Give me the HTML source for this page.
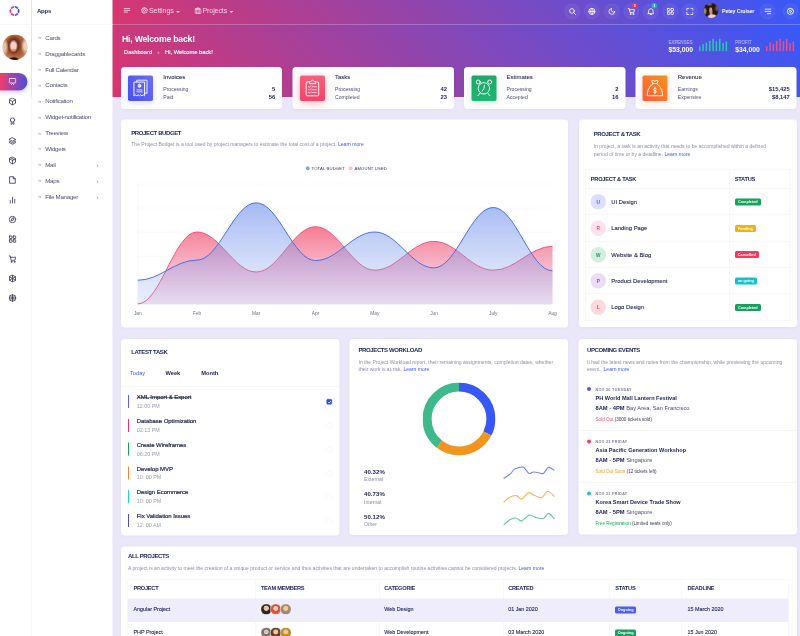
<!DOCTYPE html>
<html lang="en">
<head>
<meta charset="utf-8">
<title>Dashboard</title>
<style>
*{box-sizing:border-box;margin:0;padding:0}
html,body{width:800px;height:636px;overflow:hidden;background:#e9e7f8}
body{font-family:"Liberation Sans",sans-serif;color:#1d2250}
#app{position:relative;width:1600px;height:1272px;transform:scale(.5);transform-origin:0 0;overflow:hidden;background:#e9e7f8;font-size:13px}
a{color:#3d5af1;text-decoration:none}
svg{display:block}
/* ---------- icon sidebar ---------- */
.iconbar{z-index:2;position:absolute;left:0;top:0;width:63px;height:1272px;background:#fff;border-right:1px solid #e6e7f1}
.logo{position:absolute;left:0;top:0;width:62px;height:49px;border-bottom:1px solid #eceef5}
.logo svg{position:absolute;left:16px;top:8.8px}
.me{position:absolute;left:4.5px;top:69px;width:50px;height:50.5px;border-radius:50%;overflow:hidden;
 background:
 radial-gradient(ellipse 11px 5px at 45% 98%,#1e1516 0 70%,transparent 100%),
 radial-gradient(ellipse 5px 3px at 44% 60%,#e78d93 0 50%,transparent 100%),
 radial-gradient(ellipse 9px 13px at 44% 45%,#f4d3c4 0 55%,rgba(244,211,196,0) 100%),
 radial-gradient(ellipse 9px 18px at 92% 45%,#ecd0b8 0 40%,transparent 100%),
 radial-gradient(ellipse 8px 18px at 8% 50%,#e9c2a4 0 40%,transparent 100%),
 radial-gradient(ellipse 16px 20px at 46% 42%,#6e3220 0 60%,transparent 100%),
 radial-gradient(ellipse 30px 30px at 50% 45%,#a95a34 0 60%,#c98c60 100%)}
.me i{display:none}
.pill{position:absolute;left:0;top:146px;width:55px;height:35px;border-radius:0 18px 18px 0;
 background:linear-gradient(90deg,#ef3d6c 0%,#9a45ad 50%,#4a50d8 100%);box-shadow:0 4px 8px rgba(90,80,200,.28)}
.ico{position:absolute;left:17px;width:16px;height:16px;fill:none;stroke:#34364d;stroke-width:1.6;stroke-linecap:round;stroke-linejoin:round}
.pill .ico{stroke:#fff;top:9px;left:17px}
/* ---------- sub menu ---------- */
.submenu{z-index:2;position:absolute;left:63px;top:0;width:162px;height:1272px;background:#fff}
.submenu h4{position:absolute;left:11px;top:15px;font-size:12px;font-weight:700;color:#1d2250;letter-spacing:-.45px}
.submenu .hr{position:absolute;left:0;top:48px;width:162px;height:1px;background:#eceef5}
.submenu ul{list-style:none;position:absolute;left:0;top:60px;width:162px}
.submenu li{position:relative;height:31.75px;line-height:31.75px;padding-left:27.5px;font-size:12.3px;letter-spacing:-.52px;color:#4b4f6e}
.submenu li:before{content:"»";position:absolute;left:13px;top:-1px;font-size:12px;letter-spacing:0;color:#a3a6ba}
.submenu li b{position:absolute;left:130px;top:0;font-weight:400;color:#7b7f98;font-size:12px}
/* ---------- header ---------- */
.hero{position:absolute;left:0;top:49px;width:1600px;height:145px;background:linear-gradient(45deg,#f33057 0%,#3858f9 100%)}
.topbar{position:absolute;left:0;top:0;width:1600px;height:49px;background:linear-gradient(45deg,#f33057 0%,#3858f9 100%);border-bottom:1px solid rgba(255,255,255,.12)}
.tb{position:absolute;top:0;height:48px;color:rgba(255,255,255,.76);font-size:14.3px;line-height:48px;white-space:nowrap}
.tb svg{position:absolute;fill:none;stroke:rgba(255,255,255,.85);stroke-width:1.6;stroke-linecap:round;stroke-linejoin:round}
.caret{position:absolute;top:22px;width:0;height:0;border:4px solid transparent;border-top:4.5px solid rgba(255,255,255,.8)}
.cbtn{position:absolute;top:7px;width:31px;height:31px;border-radius:50%;background:rgba(255,255,255,.05);border:1px solid rgba(255,255,255,.07)}
.cbtn svg{position:absolute;left:6.7px;top:6.7px;width:15.6px;height:15.6px;fill:none;stroke:rgba(255,255,255,.88);stroke-width:1.7;stroke-linecap:round;stroke-linejoin:round}
.bdg{position:absolute;top:6px;width:11px;height:11px;border-radius:50%;font-size:6px;line-height:11px;text-align:center;color:#fff;font-weight:700}
.user{position:absolute;left:1406.5px;top:6px;width:30px;height:30px;border-radius:50%;overflow:hidden;
 background:
 radial-gradient(ellipse 4px 6px at 48% 45%,#d39a78 0 55%,transparent 100%),
 radial-gradient(ellipse 11px 6px at 58% 92%,#ead2c6 0 60%,transparent 100%),
 radial-gradient(ellipse 4px 9px at 50% 62%,#c98f6c 0 50%,transparent 100%),
 radial-gradient(ellipse 5px 9px at 8% 55%,#9a8a5e 0 40%,transparent 100%),
 radial-gradient(ellipse 6px 8px at 92% 35%,#7a5228 0 40%,transparent 100%),
 radial-gradient(ellipse 7px 4px at 40% 8%,#7a6a3a 0 40%,transparent 100%),
 #241817}
.uname{position:absolute;left:1444px;top:0;line-height:45px;font-size:10.6px;letter-spacing:-.3px;font-weight:700;color:#fff;white-space:nowrap}
.hello{position:absolute;left:244px;top:68px;font-size:17.4px;font-weight:700;color:#fff;white-space:nowrap;letter-spacing:-.45px}
.crumb{position:absolute;left:248px;top:97px;font-size:11.5px;-webkit-text-stroke:.25px #fff;color:#fff;white-space:nowrap;line-height:14px}
.crumb span{position:absolute;top:0}
.kpi{position:absolute;top:76.5px;color:#fff;white-space:nowrap}
.kpi small{display:block;font-size:9.3px;letter-spacing:-.3px;line-height:14px;color:rgba(255,255,255,.62)}
.kpi strong{display:block;font-size:13.6px;line-height:16px;font-weight:700}
.bars{position:absolute;top:75px}
/* ---------- cards ---------- */
.card{position:absolute;background:#fff;border-radius:7px;box-shadow:0 1px 6px rgba(120,110,200,.06)}
.stat{top:134px;width:322.5px;height:83.5px}
.stat .ib{position:absolute;left:14.5px;top:17px;width:50px;height:50.5px;border-radius:3.5px}
.stat .ib svg{position:absolute;left:0;top:0;width:50px;height:50px;fill:none;stroke:#fff;stroke-width:1.9;stroke-linecap:round;stroke-linejoin:round}
.stat h5{position:absolute;left:85px;top:12px;font-size:12px;font-weight:400;color:#1d2250;line-height:16px;-webkit-text-stroke:.15px #1d2250}
.stat p{position:absolute;left:85px;width:224px;font-size:10.2px;line-height:14px;color:#4a4f70}
.stat p b{position:absolute;right:0;top:-1.5px;font-size:11.6px;color:#1d2250}
.ttl{position:absolute;font-size:12px;letter-spacing:-.78px;font-weight:700;color:#212a5e;margin-top:-2.5px;white-space:nowrap;text-transform:uppercase;line-height:16px}
.desc{position:absolute;margin-top:-1px;font-size:10.1px;line-height:15.5px;color:#8b8fa6}

.lg{position:absolute;font-size:8.4px;letter-spacing:.3px;color:#33375a;white-space:nowrap;line-height:10px}
.lg i{position:absolute;left:-11px;top:1.4px;width:7px;height:7px;border-radius:50%;border:1.7px solid}
.tbl{position:absolute;border:1px solid #f0f0f7;border-bottom:0}
.tbl u{position:absolute;top:0;width:1px;height:100%;background:#f0f0f7}
.th{position:relative;height:38.4px;border-bottom:1px solid #f0f0f7}
.th span{position:absolute;top:9.5px;font-size:11.3px;letter-spacing:-.5px;font-weight:700;text-transform:uppercase;color:#1d2250;line-height:16px;white-space:nowrap}
.tr{position:relative;height:52.6px;border-bottom:1px solid #f0f0f7}
.tr em{position:absolute;left:10px;top:10.5px;width:31px;height:31px;border-radius:50%;font-style:normal;font-weight:700;font-size:9.5px;line-height:31px;text-align:center}
.tr span{position:absolute;left:51.5px;top:18px;font-size:11.7px;line-height:16px;color:#1d2250;white-space:nowrap;-webkit-text-stroke:.2px #1d2250}
.bd{position:absolute;left:298.5px;top:19.3px;height:14px;border-radius:3px;color:#fff;font-size:7.6px;font-weight:700;line-height:14px;text-align:center;white-space:nowrap}

.sep{position:absolute;left:0;width:100%;height:1px;background:#eeeef6}
.tabs span{position:absolute;top:59.5px;font-size:11.4px;font-weight:700;color:#1d2250;line-height:16px}
.tabs span.on{color:#3d5af1;font-weight:400}
.task{position:absolute;left:14.5px;width:410px;height:27px}
.task i{position:absolute;left:0;top:0;width:2px;height:26px}
.task h6{position:absolute;left:17.5px;top:-2.6px;font-size:12px;letter-spacing:-.1px;font-weight:400;-webkit-text-stroke:.4px #1d2250;color:#1d2250;line-height:14px;white-space:nowrap}
.task h6.done{text-decoration:line-through}
.task small{position:absolute;left:17.5px;top:15.5px;font-size:10.75px;color:#9a9db3;line-height:13px;white-space:nowrap}
.ck{display:block;position:absolute;left:397px;top:8px;width:11px;height:11px;border-radius:2.5px;border:1px solid #f0f0f6;text-decoration:none}
.ck.on{background:#2d4ee8;border-color:#2d4ee8}
.ck svg{position:absolute;left:-.5px;top:-.5px}
.wl{position:absolute;left:29px;line-height:1}
.wl b{display:block;font-size:12.1px;font-weight:700;color:#1d2250;line-height:15px;letter-spacing:.1px}
.wl span{display:block;font-size:10.4px;color:#8b8fa6;line-height:15px}
.ev{position:absolute;left:0;width:100%}
.ev i{position:absolute;left:16.6px;top:3.5px;width:8px;height:8px;border-radius:50%}
.ev small{position:absolute;left:34px;top:3px;font-size:7.4px;font-weight:700;letter-spacing:.7px;color:#7a7e98;line-height:10px;white-space:nowrap}
.ev h6{position:absolute;left:34px;top:16px;font-size:11.1px;font-weight:700;color:#1d2250;line-height:16px;white-space:nowrap}
.ev p{position:absolute;left:34px;top:37px;font-size:11.5px;color:#4a4f70;line-height:16px;white-space:nowrap}
.ev p b{color:#1d2250}
.ev em{position:absolute;left:34px;top:61px;font-style:normal;font-size:9.2px;color:#3c4060;line-height:12px;white-space:nowrap}

.pr{position:relative;height:46.6px;border-bottom:1px solid #f0f0f7}
.pr.odd{background:#efedfb}
.pr span{position:absolute;top:12px;font-size:10.8px;line-height:16px;color:#1d2250;white-space:nowrap;-webkit-text-stroke:.2px #1d2250}
.avs{position:absolute;left:266px;top:9.5px;height:23px}
.avs i{position:absolute;top:0;width:23px;height:23px;border-radius:50%;border:1px solid #fff}
.avs i:nth-child(1){left:0}.avs i:nth-child(2){left:19px}.avs i:nth-child(3){left:38.5px}
.t2 span{top:7.6px}
</style>
</head>
<body>
<div id="app">

<!-- ================= ICON SIDEBAR ================= -->
<div class="iconbar">
  <div class="logo">
    <svg width="26" height="26" viewBox="-13 -13 26 26" fill="none" stroke-width="3.5" stroke-linecap="round">
      <path d="M2.2 -8.1 L5.9 -6.0" stroke="#4a50e4"/>
      <path d="M8.1 -2.2 L8.1 2.2" stroke="#4547e2"/>
      <path d="M5.9 6.0 L2.2 8.1" stroke="#7b49d2"/>
      <path d="M-2.2 8.1 L-5.9 6.0" stroke="#e9346f"/>
      <path d="M-8.1 2.2 L-8.1 -2.2" stroke="#ec3a6a"/>
      <path d="M-5.9 -6.0 L-2.2 -8.1" stroke="#b34aa9"/>
    </svg>
  </div>
  <div class="me"><i></i></div>
  <div class="pill"><svg class="ico" viewBox="0 0 16 16"><rect x="1.5" y="2" width="13" height="9" rx="1.2"/><path d="M5.5 14.5 L8 11.5 L10.5 14.5"/></svg></div>
  <svg class="ico" style="top:195px" viewBox="0 0 16 16"><path d="M8 1.2 L14 4.5 V11.5 L8 14.8 L2 11.5 V4.5 Z M2 4.5 L8 8 L14 4.5 M8 8 V14.8"/></svg>
  <svg class="ico" style="top:234px" viewBox="0 0 16 16"><circle cx="8" cy="6" r="4.3"/><path d="M5.5 9.8 L5 14.8 L8 13.2 L11 14.8 L10.5 9.8"/></svg>
  <svg class="ico" style="top:274px" viewBox="0 0 16 16"><path d="M8 1.5 L14.5 5 L8 8.5 L1.5 5 Z M1.5 8 L8 11.5 L14.5 8 M1.5 11 L8 14.5 L14.5 11"/></svg>
  <svg class="ico" style="top:313px" viewBox="0 0 16 16"><path d="M8 1.2 L14 4.5 V11.5 L8 14.8 L2 11.5 V4.5 Z M2 4.5 L8 8 L14 4.5 M8 8 V14.8 M5 2.9 L11 6.2"/></svg>
  <svg class="ico" style="top:352px" viewBox="0 0 16 16"><path d="M3 1.5 H9.5 L13.5 5.5 V14.5 H3 Z M9.5 1.5 V5.5 H13.5"/></svg>
  <svg class="ico" style="top:392px" viewBox="0 0 16 16"><path d="M3.5 14 V9 M8 14 V2.5 M12.5 14 V6.5"/></svg>
  <svg class="ico" style="top:431px" viewBox="0 0 16 16"><circle cx="8" cy="8" r="6.5"/><path d="M10.8 5.2 L9.4 9.4 L5.2 10.8 L6.6 6.6 Z"/></svg>
  <svg class="ico" style="top:470px" viewBox="0 0 16 16"><rect x="2" y="2" width="5" height="5" rx=".4"/><rect x="9.5" y="2" width="5" height="5" rx=".4"/><rect x="2" y="9.5" width="5" height="5" rx=".4"/><rect x="9.5" y="9.5" width="5" height="5" rx=".4"/></svg>
  <svg class="ico" style="top:510px" viewBox="0 0 16 16"><path d="M1 1.8 H3.4 L5.2 10.5 H12.8 L14.4 4.5 H4"/><circle cx="6" cy="13.6" r="1.1"/><circle cx="12" cy="13.6" r="1.1"/></svg>
  <svg class="ico" style="top:549px" viewBox="0 0 16 16"><path d="M8 1.2 L14 4.5 V11.5 L8 14.8 L2 11.5 V4.5 Z M2 4.5 L14 11.5 M14 4.5 L2 11.5 M8 1.2 V14.8"/></svg>
  <svg class="ico" style="top:588px" viewBox="0 0 16 16"><circle cx="8" cy="8" r="6.5"/><path d="M8 1.5 V14.5 M1.5 8 H14.5 M3.4 3.4 L12.6 12.6 M12.6 3.4 L3.4 12.6"/></svg>
</div>

<!-- ================= SUB MENU ================= -->
<div class="submenu">
  <h4>Apps</h4>
  <div class="hr"></div>
  <ul>
    <li>Cards</li>
    <li>Draggablecards</li>
    <li>Full Calendar</li>
    <li>Contacts</li>
    <li>Notification</li>
    <li>Widget-notification</li>
    <li>Treeview</li>
    <li>Widgets</li>
    <li>Mail<b>›</b></li>
    <li>Maps<b>›</b></li>
    <li>File Manager<b>›</b></li>
  </ul>
</div>

<!-- ================= HEADER ================= -->
<div class="topbar"></div>
<div class="hero"></div>
<!-- top bar left -->
<div class="tb" style="left:247px;width:240px">
  <svg style="left:0;top:14.5px" width="14" height="12" viewBox="0 0 14 12" stroke-width="1.5"><path d="M1 2.2 H12.6 M1 5.7 H12.6 M1 9.2 H8.2" stroke-width="1.5"/></svg>
  <svg style="left:35px;top:14px" width="14" height="14" viewBox="0 0 14 14"><circle cx="7" cy="7" r="2.2"/><path d="M7 1 L8.2 2.6 L10.2 1.9 L10.6 3.9 L12.6 4.4 L11.8 6.3 L13 7.9 L11.3 9 L11.5 11 L9.5 11 L8.5 12.8 L7 11.6 L5.3 12.8 L4.4 11 L2.4 11 L2.7 9 L1 7.9 L2.2 6.3 L1.4 4.4 L3.4 3.9 L3.8 1.9 L5.8 2.6 Z"/></svg>
  <span style="position:absolute;left:51px;top:-4px;letter-spacing:-.3px">Settings</span><i class="caret" style="left:105px"></i>
  <svg style="left:142px;top:14px" width="14" height="14" viewBox="0 0 14 14"><rect x="1" y="4" width="12" height="8.5" rx="1.2"/><path d="M4.8 4 V2 H9.2 V4 M4.8 4 V12.5 M9.2 4 V12.5"/></svg>
  <span style="position:absolute;left:158px;top:-4px;letter-spacing:-.3px">Projects</span><i class="caret" style="left:212px"></i>
</div>
<!-- top bar right -->
<div class="cbtn" style="left:1129px"><svg viewBox="0 0 14 14"><circle cx="6.2" cy="6.2" r="4.2"/><path d="M9.4 9.4 L12.6 12.6"/></svg></div>
<div class="cbtn" style="left:1168px"><svg viewBox="0 0 14 14"><circle cx="7" cy="7" r="5.6"/><path d="M1.4 7 H12.6 M7 1.4 C4 4 4 10 7 12.6 C10 10 10 4 7 1.4"/></svg></div>
<div class="cbtn" style="left:1208px"><svg viewBox="0 0 14 14"><path d="M12.25 7.46 A5.25 5.25 0 1 1 6.54 1.75 A4.08 4.08 0 0 0 12.25 7.46 Z"/></svg></div>
<div class="cbtn" style="left:1247px"><svg viewBox="0 0 14 14"><path d="M.8 1.6 H3 L4.6 9.2 H11.2 L12.6 4 H3.6"/><circle cx="5.4" cy="11.8" r=".9"/><circle cx="10.4" cy="11.8" r=".9"/></svg></div>
<div class="cbtn" style="left:1286px"><svg viewBox="0 0 14 14"><path d="M3 10 V6.2 A4 4 0 0 1 11 6.2 V10 L12 11 H2 Z M5.8 12.6 H8.2"/></svg></div>
<div class="cbtn" style="left:1325px"><svg viewBox="0 0 14 14"><rect x="1.6" y="1.6" width="4.4" height="4.4" rx=".8"/><rect x="8" y="1.6" width="4.4" height="4.4" rx=".8"/><rect x="1.6" y="8" width="4.4" height="4.4" rx=".8"/><rect x="8" y="8" width="4.4" height="4.4" rx=".8"/></svg></div>
<div class="cbtn" style="left:1364px"><svg viewBox="0 0 14 14"><path d="M1.5 5 V1.5 H5 M9 1.5 H12.5 V5 M12.5 9 V12.5 H9 M5 12.5 H1.5 V9"/></svg></div>
<div class="bdg" style="left:1264px;background:#f5334f">5</div>
<div class="bdg" style="left:1303px;background:#17b8a6">3</div>
<div class="user"></div>
<div class="uname">Petey Cruiser</div>
<div class="cbtn" style="left:1520px"><svg viewBox="0 0 14 14"><path d="M2 3 H12.5 M2 7 H12.5 M6 11 H12.5"/></svg></div>
<div class="cbtn" style="left:1565.5px"><svg viewBox="0 0 14 14"><circle cx="7" cy="7" r="2"/><path d="M7 1 L8.2 2.6 L10.2 1.9 L10.6 3.9 L12.6 4.4 L11.8 6.3 L13 7.9 L11.3 9 L11.5 11 L9.5 11 L8.5 12.8 L7 11.6 L5.3 12.8 L4.4 11 L2.4 11 L2.7 9 L1 7.9 L2.2 6.3 L1.4 4.4 L3.4 3.9 L3.8 1.9 L5.8 2.6 Z"/></svg></div>

<div class="hello">Hi, Welcome back!</div>
<div class="crumb"><span style="left:0">Dashboard</span><span style="left:67px;opacity:.55">›</span><span style="left:82px">Hi, Welcome back!</span></div>

<div class="kpi" style="left:1337px"><small>EXPENSES</small><strong>$53,000</strong></div>
<svg class="bars" style="left:1397px" width="60" height="28" viewBox="0 0 60 28" fill="#1fd1a5">
  <rect x="1" y="17.5" width="3" height="10" rx="1"/><rect x="7.7" y="13" width="3" height="14.6" rx="1"/><rect x="14.3" y="10" width="3" height="17.5" rx="1"/><rect x="21" y="6.5" width="3" height="21" rx="1"/><rect x="27.6" y="2.4" width="3" height="25.2" rx="1"/><rect x="34.3" y="7.6" width="3" height="20" rx="1"/><rect x="40.9" y="2.4" width="3" height="25.2" rx="1"/><rect x="47.6" y="11.2" width="3" height="16.4" rx="1"/><rect x="54.2" y="7.6" width="3" height="20" rx="1"/>
</svg>
<div class="kpi" style="left:1470.5px"><small>PROFIT</small><strong>$34,000</strong></div>
<svg class="bars" style="left:1531px" width="60" height="28" viewBox="0 0 60 28" fill="#ee4f86">
  <rect x="1" y="17.5" width="3" height="10" rx="1"/><rect x="7.7" y="9.4" width="3" height="18.2" rx="1"/><rect x="14.3" y="13" width="3" height="14.6" rx="1"/><rect x="21" y="6.5" width="3" height="21" rx="1"/><rect x="27.6" y="2.4" width="3" height="25.2" rx="1"/><rect x="34.3" y="7.6" width="3" height="20" rx="1"/><rect x="40.9" y="2.4" width="3" height="25.2" rx="1"/><rect x="47.6" y="11.2" width="3" height="16.4" rx="1"/><rect x="54.2" y="7.6" width="3" height="20" rx="1"/>
</svg>

<!-- stat cards -->
<div class="card stat" style="left:241.5px">
  <div class="ib" style="background:linear-gradient(60deg,#4850f2,#6e6cf6);box-shadow:0 4px 12px rgba(90,95,240,.22)"><svg viewBox="0 0 50 50"><path d="M17.5 13 V9.4 H38 V36 L36 34.4 L34 36 H33.4" stroke-opacity=".9"/><path d="M12.6 13.2 H33.2 V40.6 L30.6 38.6 L28 40.6 L25.4 38.6 L22.9 40.6 L20.3 38.6 L17.7 40.6 L15.2 38.6 L12.6 40.6 Z"/><ellipse cx="23" cy="20.6" rx="2.6" ry="3.6"/><path d="M23 18.6 V22.6 M17.6 28.8 H28.4 M17.6 32.6 H28.4" stroke-width="1.6"/></svg></div>
  <h5>Invoices</h5>
  <p style="top:37.5px">Processing<b>5</b></p>
  <p style="top:53.8px">Paid<b>56</b></p>
</div>
<div class="card stat" style="left:585px">
  <div class="ib" style="background:linear-gradient(180deg,#f95f7a,#f4436a);box-shadow:0 4px 16px rgba(245,60,95,.38)"><svg viewBox="0 0 50 50"><path d="M19 12.8 H14.6 Q12.4 12.8 12.4 15 V38.4 Q12.4 40.6 14.6 40.6 H35.2 Q37.4 40.6 37.4 38.4 V15 Q37.4 12.8 35.2 12.8 H31"/><path d="M19 15.6 V12.4 H22 Q22.6 9.4 25 9.4 Q27.4 9.4 28 12.4 H31 V15.6 Z"/><path d="M17.4 22.4 L18.8 23.8 L21.2 21 M24 22.5 H32.6 M17.4 28.2 L18.8 29.6 L21.2 26.8 M24 28.3 H32.6 M17.4 34 L18.8 35.4 L21.2 32.6 M24 34.2 H32.6" stroke-width="1.7"/></svg></div>
  <h5>Tasks</h5>
  <p style="top:37.5px">Processing<b>42</b></p>
  <p style="top:53.8px">Completed<b>23</b></p>
</div>
<div class="card stat" style="left:928px">
  <div class="ib" style="background:linear-gradient(180deg,#1ca968,#21b472);box-shadow:0 4px 12px rgba(30,170,100,.22)"><svg viewBox="0 0 50 50"><circle cx="24.8" cy="25.7" r="11.4"/><path d="M25.9 19.3 L24.8 26.2 L21 31.2" stroke-width="1.7"/><path d="M17.2 35.2 L13 40.2 M32.6 35.2 L36.6 40.2"/><circle cx="13.4" cy="13" r="4"/><circle cx="36.4" cy="13" r="4"/></svg></div>
  <h5>Estimates</h5>
  <p style="top:37.5px">Processing<b>2</b></p>
  <p style="top:53.8px">Accepted<b>16</b></p>
</div>
<div class="card stat" style="left:1270.5px">
  <div class="ib" style="background:linear-gradient(45deg,#fd5a3e,#f6931d);box-shadow:0 4px 12px rgba(245,110,50,.25)"><svg viewBox="0 0 50 50"><path d="M20.6 16.6 C13 22 9.4 31 9.4 40.4 H40.2 C40.2 31 36.6 22 29 16.6 Z"/><path d="M20.8 16.4 C19.6 14 18.2 12 18.6 10.6 C19.2 9 21.6 9.6 24.8 11.6 C28 9.6 30.4 9 31 10.6 C31.4 12 30 14 28.8 16.4"/><path d="M27.6 27 C26 25 22 25.6 22 28 C22 31 27.8 29.4 27.8 32.6 C27.8 35.2 23.4 35.6 21.8 33.4 M24.8 23.8 V36.8" stroke-width="1.7"/></svg></div>
  <h5>Revenue</h5>
  <p style="top:37.5px">Earnings<b>$15,425</b></p>
  <p style="top:53.8px">Expensive<b>$8,147</b></p>
</div>

<!-- ============ PROJECT BUDGET ============ -->
<div class="card" style="left:241.5px;top:239px;width:894.5px;height:416px">
  <div class="ttl" style="left:21px;top:21px">Project Budget</div>
  <div class="desc" style="left:21px;top:43px;white-space:nowrap">The Project Budget is a tool used by project managers to estimate the total cost of a project. <a>Learn more</a></div>
  <div class="lg" style="left:381.5px;top:92.5px"><i style="background:#93a6f2;border-color:#4c68ea"></i>TOTAL BUDGET</div>
  <div class="lg" style="left:467.5px;top:92.5px"><i style="background:#fbd3dc;border-color:#f08ba8"></i>AMOUNT USED</div>
  <svg style="position:absolute;left:0;top:0" width="894" height="416" viewBox="241.5 239 894 416">
    <defs>
      <linearGradient id="gb" x1="0" y1="0" x2="0" y2="1" gradientUnits="objectBoundingBox"><stop offset="0" stop-color="#5b7fe8" stop-opacity=".55"/><stop offset="1" stop-color="#9fb6f5" stop-opacity=".22"/></linearGradient>
      <linearGradient id="gr" x1="0" y1="0" x2="0" y2="1" gradientUnits="objectBoundingBox"><stop offset="0" stop-color="#f5506f" stop-opacity=".75"/><stop offset="1" stop-color="#e56a9a" stop-opacity=".16"/></linearGradient>
    </defs>
    <g stroke="#f1f1f7" stroke-width="1">
      <path d="M275 368 H1105 M275 416 H1105 M275 464.2 H1105 M275 512.3 H1105 M275 560.4 H1105 M275 608.5 H1105"/>
      <path d="M275 368 V608.5" stroke="#f3f3f8"/>
    </g>
    <path fill="url(#gr)" d="M275.0 607.8 C320.0 607.8 348.5 464.0 393.5 464.0 C438.5 464.0 467.0 544.0 512.0 544.0 C557.0 544.0 585.5 453.4 630.5 453.4 C675.5 453.4 704.0 540.4 749.0 540.4 C794.0 540.4 822.5 482.8 867.5 482.8 C912.5 482.8 941.0 540.4 986.0 540.4 C1031.0 540.4 1059.5 492.6 1104.5 492.6 L1104.5 608.5 L275.0 608.5 Z"/>
    <path fill="none" stroke="#f0557a" stroke-width="2" d="M275.0 607.8 C320.0 607.8 348.5 464.0 393.5 464.0 C438.5 464.0 467.0 544.0 512.0 544.0 C557.0 544.0 585.5 453.4 630.5 453.4 C675.5 453.4 704.0 540.4 749.0 540.4 C794.0 540.4 822.5 482.8 867.5 482.8 C912.5 482.8 941.0 540.4 986.0 540.4 C1031.0 540.4 1059.5 492.6 1104.5 492.6"/>
    <path fill="url(#gb)" d="M275.0 560.5 C320.0 560.5 348.5 520.2 393.5 520.2 C438.5 520.2 467.0 405.6 512.0 405.6 C557.0 405.6 585.5 521.2 630.5 521.2 C675.5 521.2 704.0 464.0 749.0 464.0 C794.0 464.0 822.5 535.8 867.5 535.8 C912.5 535.8 941.0 415.0 986.0 415.0 C1031.0 415.0 1059.5 541.6 1104.5 541.6 L1104.5 608.5 L275.0 608.5 Z"/>
    <path fill="none" stroke="#4a6fe3" stroke-width="2" d="M275.0 560.5 C320.0 560.5 348.5 520.2 393.5 520.2 C438.5 520.2 467.0 405.6 512.0 405.6 C557.0 405.6 585.5 521.2 630.5 521.2 C675.5 521.2 704.0 464.0 749.0 464.0 C794.0 464.0 822.5 535.8 867.5 535.8 C912.5 535.8 941.0 415.0 986.0 415.0 C1031.0 415.0 1059.5 541.6 1104.5 541.6"/>
    <g font-family="Liberation Sans, sans-serif" font-size="9.6" fill="#6f738c" text-anchor="middle">
      <text x="275" y="629.5">Jan</text><text x="393.5" y="629.5">Feb</text><text x="512" y="629.5">Mar</text><text x="630.5" y="629.5">Apr</text><text x="749" y="629.5">May</text><text x="867.5" y="629.5">Jun</text><text x="986" y="629.5">July</text><text x="1104.5" y="629.5">Aug</text>
    </g>
  </svg>
</div>

<!-- ============ PROJECT & TASK ============ -->
<div class="card" style="left:1157.5px;top:239px;width:436px;height:414.5px;overflow:hidden">
  <div class="ttl" style="left:30px;top:23.8px">Project &amp; Task</div>
  <div class="desc" style="left:30px;top:47px;white-space:nowrap">In project, a task is an activity that needs to be accomplished within a defined<br>period of time or by a deadline. <a>Learn more</a></div>
  <div class="tbl" style="left:12.6px;top:99.5px;width:410.4px">
    <div class="th"><span style="left:10.5px">Project &amp; Task</span><span style="left:298.5px">Status</span><u style="left:288px"></u></div>
    <div class="tr"><em style="background:#dcdffc;color:#4a58e6">U</em><span>UI Design</span><u style="left:288px"></u><b class="bd" style="background:#17a05e;width:52px">Completed</b></div>
    <div class="tr"><em style="background:#fde3ed;color:#ef4b87">R</em><span>Landing Page</span><u style="left:288px"></u><b class="bd" style="background:#f1b10e;width:42px">Pending</b></div>
    <div class="tr"><em style="background:#d3efdf;color:#1a9d5c">W</em><span>Website &amp; Blog</span><u style="left:288px"></u><b class="bd" style="background:#f43b5c;width:48px">Cancelled</b></div>
    <div class="tr"><em style="background:#ecdcf8;color:#a643d6">P</em><span>Product Development</span><u style="left:288px"></u><b class="bd" style="background:#12c2c7;width:44.5px">on going</b></div>
    <div class="tr"><em style="background:#fdd9de;color:#f0405c">L</em><span>Logo Design</span><u style="left:288px"></u><b class="bd" style="background:#17a05e;width:52px">Completed</b></div>
  </div>
</div>
<!-- ============ LATEST TASK ============ -->
<div class="card" style="left:241.5px;top:677.5px;width:437px;height:393.5px">
  <div class="ttl" style="left:21px;top:19.5px">Latest Task</div>
  <div class="tabs"><span class="on" style="left:18.5px">Today</span><span style="left:89.5px">Week</span><span style="left:161px">Month</span></div>
  <div class="sep" style="top:94.5px"></div>
  <div class="task" style="top:112.5px"><i style="background:#5a5fee"></i><h6 class="done">XML Import &amp; Export</h6><small>12:00 PM</small><span class="ck on"><svg viewBox="0 0 10 10" width="10" height="10"><path d="M2.2 5.2 L4.2 7.2 L7.8 3.2" fill="none" stroke="#fff" stroke-width="1.6"/></svg></span></div>
  <div class="task" style="top:160px"><i style="background:#ee2a7b"></i><h6>Database Optimization</h6><small>02:13 PM</small><span class="ck"></span></div>
  <div class="task" style="top:207.5px"><i style="background:#17a05e"></i><h6>Create Wireframes</h6><small>06:20 PM</small><span class="ck"></span></div>
  <div class="task" style="top:255px"><i style="background:#f77f3a"></i><h6>Develop MVP</h6><small>10: 00 PM</small><span class="ck"></span></div>
  <div class="task" style="top:302.5px"><i style="background:#1fd5c9"></i><h6>Design Ecommerce</h6><small>10: 00 PM</small><span class="ck"></span></div>
  <div class="task" style="top:350px"><i style="background:#5548c8"></i><h6>Fix Validation Issues</h6><small>12: 00 AM</small><span class="ck"></span></div>
</div>

<!-- ============ PROJECTS WORKLOAD ============ -->
<div class="card" style="left:699px;top:677.5px;width:436.5px;height:392.5px">
  <div class="ttl" style="left:18px;top:16.3px">Projects Workload</div>
  <div class="desc" style="left:18px;top:40.2px;white-space:nowrap;line-height:14.6px">In the Project Workload report, their remaining assignments, completion dates, whether<br>their work is at-risk. <a>Learn more</a></div>
  <svg style="position:absolute;left:146px;top:87px" width="146" height="146" viewBox="-73 -73 146 146">
    <g fill="none" stroke-width="18" transform="rotate(-90)">
      <circle r="63.8" stroke="#3db98b" stroke-dasharray="158.6 400.9" stroke-dashoffset="-242.5"/>
      <circle r="63.8" stroke="#3858f6" stroke-dasharray="130.3 400.9"/>
      <circle r="63.8" stroke="#f0961e" stroke-dasharray="112.4 400.9" stroke-dashoffset="-130.3"/>
    </g>
  </svg>
  <div class="wl" style="top:258.2px"><b>40.32%</b><span>External</span></div>
  <div class="wl" style="top:303.6px"><b>40.73%</b><span>Internal</span></div>
  <div class="wl" style="top:348.4px"><b>50.12%</b><span>Other</span></div>
  <svg style="position:absolute;left:306px;top:250px" width="110" height="130" viewBox="0 0 110 130" fill="none" stroke-width="2.2" stroke-linejoin="round" stroke-linecap="round">
    <path stroke="#7385f5" d="M3.0 28.6 C5.2 27.1 11.7 23.3 15.5 20.0 C19.3 16.7 20.4 12.6 24.0 10.2 C27.6 7.8 32.2 7.4 35.5 6.8 C38.8 6.2 39.4 4.6 42.5 6.8 C45.6 9.0 49.6 17.1 53.0 18.8 C56.4 20.5 58.4 16.3 61.5 16.0 C64.6 15.7 66.4 16.5 70.0 17.0 C73.6 17.5 77.5 20.6 81.5 18.8 C85.5 17.0 88.1 7.9 92.0 6.8 C95.9 5.7 101.0 11.5 103.0 12.5"/>
    <path stroke="#f5b05a" d="M3.0 76.3 C4.7 74.8 8.3 70.1 12.6 67.7 C16.9 65.3 22.3 62.6 27.0 63.0 C31.7 63.4 34.2 71.0 38.6 70.0 C43.0 69.0 47.1 58.7 51.7 57.4 C56.3 56.1 59.5 61.3 64.4 63.0 C69.3 64.7 74.1 68.6 78.8 67.1 C83.5 65.6 85.9 55.0 90.3 54.5 C94.7 54.0 100.7 62.5 103.0 64.3"/>
    <path stroke="#5fcb9d" d="M3.0 121.8 C4.9 120.0 9.5 114.5 13.8 112.0 C18.1 109.5 22.5 107.7 27.0 108.0 C31.5 108.3 33.9 114.7 38.6 113.7 C43.3 112.7 48.4 103.5 53.0 102.2 C57.6 100.9 59.2 105.0 64.4 106.2 C69.6 107.4 76.7 110.4 81.7 109.1 C86.7 107.8 88.2 98.8 92.0 98.8 C95.8 98.8 101.0 107.2 103.0 109.1"/>
  </svg>
</div>

<!-- ============ UPCOMING EVENTS ============ -->
<div class="card" style="left:1157px;top:677.5px;width:436.5px;height:391.5px">
  <div class="ttl" style="left:17px;top:16.8px">Upcoming Events</div>
  <div class="desc" style="left:17px;top:40.2px;white-space:nowrap;line-height:14.6px">It had the latest news and notes from the championship, while previewing the upcoming<br>event.. <a>Learn more</a></div>
  <div class="ev" style="top:93px"><i style="background:#4a5cf0"></i><small>NOV 20 TUESDAY</small><h6>PH World Mall Lantern Festival</h6><p><b>8AM - 4PM</b> Bay Area, San Francisco</p><em><span style="color:#f0506e">Sold Out</span> (3000 tickets sold)</em></div>
  <div class="sep" style="top:182.5px"></div>
  <div class="ev" style="top:197.5px"><i style="background:#f23a5e"></i><small>NOV 23 FRIDAY</small><h6>Asia Pacific Generation Workshop</h6><p><b>8AM - 5PM</b> Singapore</p><em><span style="color:#efa02c">Sold Out Soon</span> (12 tickets left)</em></div>
  <div class="sep" style="top:286.5px"></div>
  <div class="ev" style="top:301.5px"><i style="background:#17c3c8"></i><small>NOV 23 FRIDAY</small><h6>Korea Smart Device Trade Show</h6><p><b>8AM - 5PM</b> Singapore</p><em><span style="color:#22a861">Free Registration</span> (Limited seats only)</em></div>
</div>
<!-- ============ ALL PROJECTS ============ -->
<div class="card" style="left:241.5px;top:1093px;width:1352px;height:300px">
  <div class="ttl" style="left:14.5px;top:13.2px">All Projects</div>
  <div class="desc" style="left:14.5px;top:37.2px;white-space:nowrap">A project is an activity to meet the creation of a unique product or service and thus activities that are undertaken to accomplish routine activities cannot be considered projects. <a>Learn more</a></div>
  <div class="tbl" style="left:12.8px;top:66px;width:1324.2px">
    <div class="th t2" style="height:37.5px">
      <span style="left:11.5px">Project</span><u style="left:255.5px"></u>
      <span style="left:266.5px">Team Members</span><u style="left:502.5px"></u>
      <span style="left:513px">Categorie</span><u style="left:751px"></u>
      <span style="left:761px">Created</span><u style="left:964px"></u>
      <span style="left:975px">Status</span><u style="left:1108px"></u>
      <span style="left:1119.5px">Deadline</span>
    </div>
    <div class="pr odd">
      <span style="left:11.5px">Angular Project</span>
      <div class="avs"><i style="background:radial-gradient(circle at 50% 40%,#e8c3ab 0 28%,#3a2b27 36%,#20242e 70%)"></i><i style="background:radial-gradient(circle at 50% 42%,#f1c9b2 0 26%,#c9503e 34%,#e8604c 75%)"></i><i style="background:radial-gradient(circle at 50% 42%,#f0c7a8 0 26%,#b88a52 34%,#8d82a8 75%)"></i></div>
      <span style="left:513px">Web Design</span><span style="left:761px">01 Jan 2020</span>
      <b class="bd" style="left:975px;top:15px;width:42px;background:#4a5ff2">Ongoing</b>
      <span style="left:1119.5px">15 March 2020</span>
      <u style="left:255.5px"></u><u style="left:502.5px"></u><u style="left:751px"></u><u style="left:964px"></u><u style="left:1108px"></u>
    </div>
    <div class="pr">
      <span style="left:11.5px">PHP Project</span>
      <div class="avs"><i style="background:radial-gradient(circle at 50% 42%,#e3c4b3 0 26%,#6d6a68 34%,#9a9a98 75%)"></i><i style="background:radial-gradient(circle at 50% 42%,#eec5ad 0 26%,#7a4a35 34%,#4b2e24 75%)"></i><i style="background:radial-gradient(circle at 50% 42%,#f0c49c 0 26%,#d98a1e 34%,#74a83a 75%)"></i></div>
      <span style="left:513px">Web Development</span><span style="left:761px">03 March 2020</span>
      <b class="bd" style="left:975px;top:15px;width:42px;background:#17a05e">Ongoing</b>
      <span style="left:1119.5px">15 Jun 2020</span>
      <u style="left:255.5px"></u><u style="left:502.5px"></u><u style="left:751px"></u><u style="left:964px"></u><u style="left:1108px"></u>
    </div>
  </div>
</div>



</div>
</body>
</html>
